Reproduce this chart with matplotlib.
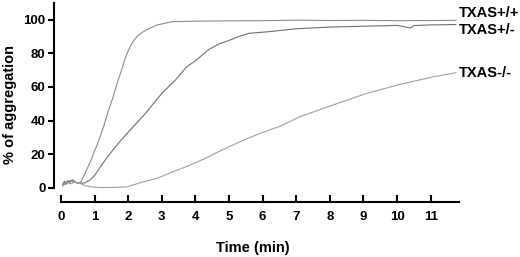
import matplotlib
matplotlib.use("Agg")
import matplotlib.pyplot as plt

plt.rcParams['font.family'] = ['Liberation Sans', 'DejaVu Sans']
plt.rcParams['font.weight'] = 'bold'

# time (min) and % of aggregation
t_wt = [0.05, 0.1, 0.15, 0.2, 0.25, 0.3, 0.35, 0.4, 0.45, 0.5, 0.57, 0.7, 0.9,
        1.1, 1.26, 1.41, 1.55, 1.65, 1.8, 1.9, 2.0, 2.1, 2.2, 2.35, 2.55, 2.85,
        3.3, 4.0, 5.0, 6.0, 7.0, 8.0, 9.0, 10.0, 11.0, 11.75]
v_wt = [1.0, 3.5, 2.0, 4.5, 3.0, 4.0, 5.0, 4.0, 3.2, 2.6, 3.0, 8.0, 17.0,
        27.0, 36.0, 46.0, 54.0, 61.0, 70.0, 76.5, 81.5, 85.5, 88.5, 91.5, 94.0, 96.7,
        98.7, 99.0, 99.2, 99.3, 99.6, 99.4, 99.5, 99.3, 99.4, 99.5]

t_het = [0.05, 0.1, 0.15, 0.2, 0.3, 0.4, 0.5, 0.6, 0.7, 0.86, 1.0, 1.31, 1.6,
         1.9, 2.15, 2.5, 3.0, 3.4, 3.74, 4.0, 4.38, 4.7, 5.03, 5.3, 5.6, 6.2,
         7.0, 8.0, 9.0, 10.0, 10.4, 10.5, 11.0, 11.75]
v_het = [2.0, 4.0, 2.5, 3.5, 4.5, 3.5, 3.0, 2.8, 3.0, 4.7, 7.5, 16.6, 24.0,
         31.0, 36.4, 44.0, 56.2, 64.0, 72.0, 75.5, 82.0, 85.5, 87.8, 90.0, 91.8, 92.8,
         94.5, 95.5, 96.0, 96.5, 95.0, 96.4, 96.8, 97.0]

t_ko = [0.05, 0.1, 0.15, 0.2, 0.3, 0.4, 0.5, 0.6, 0.7, 0.86, 1.0, 1.2, 1.5,
        1.95, 2.35, 2.85, 3.34, 3.84, 4.34, 4.68, 5.0, 5.5, 6.0, 6.5, 7.11, 8.1,
        9.1, 10.09, 11.08, 11.75]
v_ko = [3.0, 2.0, 4.0, 3.0, 2.5, 3.5, 3.0, 2.5, 1.5, 0.8, 0.5, 0.3, 0.3,
        0.6, 3.1, 5.7, 9.7, 13.6, 18.0, 21.5, 24.5, 29.0, 33.0, 36.5, 42.3, 49.3,
        56.2, 61.5, 66.0, 68.4]

series = [
    (t_wt, v_wt, '#8c8c8c', 'TXAS+/+', 104),
    (t_het, v_het, '#6f6f6f', 'TXAS+/-', 93.8),
    (t_ko, v_ko, '#a0a0a0', 'TXAS-/-', 68.2),
]
x_ticks = list(range(0, 12))
y_ticks = [0, 20, 40, 60, 80, 100]

W, H = 520, 257
fig = plt.figure(figsize=(W / 100, H / 100), dpi=100)
# axes in pixel terms: left spine at x=54, x=0 at 61, 1 min = 33.6 px
x0, x1 = -0.21, 12.0
y0, y1 = -4, 110
left = 54 / W
width = (x1 - x0) * 33.6 / W
bottom = (H - (188 + 4 * 1.685)) / H
height = (y1 - y0) * 1.685 / H
ax = fig.add_axes([left, bottom, width, height])

for t, v, c, name, ylab in series:
    ax.plot(t, v, color=c, lw=0.8)
    ax.text(11.85, ylab, name, fontsize=10.5, fontweight='bold',
            va='center', ha='left', clip_on=False)

ax.set_xlim(x0, x1)
ax.set_ylim(y0, y1)
ax.spines['top'].set_visible(False)
ax.spines['right'].set_visible(False)
ax.spines['left'].set_bounds(0, 110)
ax.spines['bottom'].set_bounds(0, 11.85)
ax.spines['bottom'].set_position(('outward', 5))
for s in ('left', 'bottom'):
    ax.spines[s].set_linewidth(1.5)

ax.set_xticks(x_ticks)
ax.set_yticks(y_ticks)
ax.tick_params(axis='y', direction='out', length=4, width=1.5, pad=2, labelsize=9.5)
ax.tick_params(axis='x', direction='in', length=5, width=1.5, pad=7, labelsize=9.5)
for lbl in ax.get_xticklabels() + ax.get_yticklabels():
    lbl.set_fontweight('bold')

fig.text(10 / W, 1 - 104 / H, '% of aggregation', rotation=90, fontsize=10.5,
         fontweight='bold', ha='center', va='center')
fig.text(253 / W, 1 - 248 / H, 'Time (min)', fontsize=10.5, fontweight='bold',
         ha='center', va='center')

fig.savefig('out.png', dpi=100)
